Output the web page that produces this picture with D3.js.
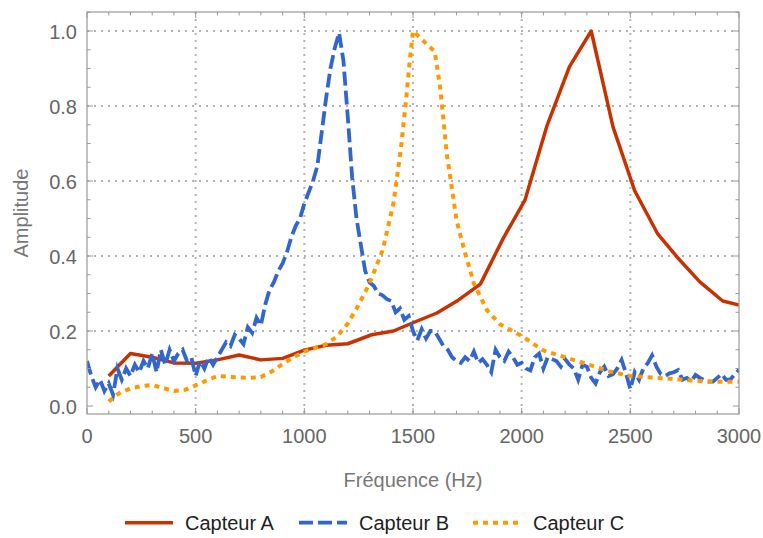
<!DOCTYPE html>
<html><head><meta charset="utf-8">
<script src="https://cdn.jsdelivr.net/npm/d3@7"></script>
<style>
html,body{margin:0;padding:0;background:#fff;}
svg{display:block;font-family:"Liberation Sans",Arial,sans-serif;}
</style></head>
<body><svg id="chart" width="763" height="538"></svg>
<script>
// ---- data ----
const seriesNames = ["Capteur A", "Capteur B", "Capteur C"];
const xTicks = [0, 500, 1000, 1500, 2000, 2500, 3000];
const yTicks = [0.0, 0.2, 0.4, 0.6, 0.8, 1.0];

const freqA = [100,200,300,400,500,600,700,800,900,1000,1100,1200,1310,1410,1500,1610,1710,1810,1915,2015,2115,2220,2320,2420,2520,2625,2720,2820,2925,3010];
const ampA  = [0.08,0.14,0.13,0.115,0.114,0.123,0.136,0.123,0.127,0.149,0.162,0.166,0.19,0.2,0.222,0.248,0.283,0.325,0.447,0.549,0.745,0.905,1.0,0.745,0.574,0.46,0.394,0.331,0.28,0.268];

const stepB = 20;
const ampB = [
 0.12,0.08,0.05,0.07,0.04,0.06,0.03,0.10,0.07,0.10,
 0.08,0.11,0.09,0.12,0.10,0.14,0.09,0.15,0.11,0.15,
 0.12,0.14,0.15,0.12,0.13,0.08,0.12,0.10,0.13,0.11,
 0.13,0.15,0.17,0.16,0.19,0.18,0.165,0.21,0.195,0.235,
 0.215,0.27,0.31,0.33,0.36,0.38,0.41,0.45,0.48,0.50,
 0.54,0.57,0.60,0.64,0.73,0.82,0.90,0.955,0.995,0.92,
 0.77,0.61,0.50,0.43,0.36,0.33,0.32,0.30,0.295,0.285,
 0.28,0.25,0.26,0.23,0.24,0.20,0.175,0.205,0.18,0.20,
 0.20,0.18,0.16,0.15,0.13,0.12,0.115,0.13,0.12,0.145,
 0.115,0.125,0.11,0.09,0.15,0.13,0.12,0.145,0.13,0.11,
 0.115,0.10,0.095,0.13,0.14,0.10,0.13,0.125,0.12,0.105,
 0.125,0.11,0.10,0.07,0.11,0.105,0.075,0.06,0.09,0.105,
 0.08,0.085,0.10,0.123,0.087,0.045,0.09,0.07,0.10,0.114,
 0.135,0.105,0.085,0.08,0.087,0.09,0.096,0.07,0.075,0.065,
 0.083,0.075,0.069,0.065,0.065,0.075,0.085,0.07,0.07,0.085,
 0.096];

const freqC = [100,150,200,250,300,350,400,450,500,550,600,650,700,750,800,850,900,950,1000,1050,1100,1150,1200,1250,1300,1360,1410,1445,1467,1486,1500,1600,1625,1640,1655,1678,1700,1740,1780,1840,1900,2000,2100,2200,2300,2400,2500,2600,2700,2800,2900,3000];
const ampC  = [0.012,0.035,0.047,0.053,0.056,0.048,0.04,0.043,0.055,0.068,0.08,0.078,0.076,0.075,0.077,0.092,0.112,0.13,0.145,0.155,0.165,0.185,0.22,0.27,0.327,0.415,0.54,0.69,0.81,0.925,1.0,0.945,0.85,0.763,0.674,0.585,0.496,0.407,0.327,0.256,0.218,0.187,0.148,0.13,0.112,0.093,0.08,0.076,0.072,0.067,0.065,0.065];

const colors = ["#c83200", "#3366cc", "#ff9900"];

// ---- layout ----
const svg = d3.select("#chart");
const L = 87, R = 739, T = 12, B = 414;
const x = d3.scaleLinear().domain([0, 3000]).range([L, R]);
const y = d3.scaleLinear().domain([-0.02133, 1.0507]).range([B, T]);

// grid
const g = svg.append("g");
g.selectAll("line.gx").data(xTicks.filter(d => d > 0 && d < 3000)).join("line")
  .attr("x1", d => x(d)).attr("x2", d => x(d)).attr("y1", T).attr("y2", B)
  .attr("stroke", "#b3b3b3").attr("stroke-width", 2).attr("stroke-dasharray", "2,5");
g.selectAll("line.gy").data(yTicks.filter(d => d > 0)).join("line")
  .attr("y1", d => y(d)).attr("y2", d => y(d)).attr("x1", L).attr("x2", R)
  .attr("stroke", "#b3b3b3").attr("stroke-width", 2).attr("stroke-dasharray", "2,5");

// clip
svg.append("clipPath").attr("id", "clip").append("rect")
  .attr("x", L).attr("y", T).attr("width", R - L).attr("height", B - T);

const line = d3.line().x(d => x(d[0])).y(d => y(d[1]));
const dataA = freqA.map((f, i) => [f, ampA[i]]);
const dataB = ampB.map((a, i) => [i * stepB, a]);
const dataC = freqC.map((f, i) => [f, ampC[i]]);

const plot = svg.append("g").attr("clip-path", "url(#clip)");
plot.append("path").attr("d", line(dataA)).attr("fill", "none")
  .attr("stroke", colors[0]).attr("stroke-width", 3.5).attr("stroke-linejoin", "round");
plot.append("path").attr("d", line(dataB)).attr("fill", "none")
  .attr("stroke", colors[1]).attr("stroke-width", 3.8).attr("stroke-dasharray", "14,5");
plot.append("path").attr("d", line(dataC)).attr("fill", "none")
  .attr("stroke", colors[2]).attr("stroke-width", 4).attr("stroke-dasharray", "5,5");

// frame
const fr = svg.append("g");
fr.append("rect").attr("x", L).attr("y", T).attr("width", R - L).attr("height", B - T)
  .attr("fill", "none").attr("stroke", "#999").attr("stroke-width", 1.2);

const xMinor = d3.range(0, 3001, 100);
const yMinor = d3.range(0, 1.0501, 0.05);
const isMajX = d => d % 500 === 0;
const isMajY = d => Math.abs(d * 5 - Math.round(d * 5)) < 1e-6;
xMinor.forEach(d => {
  const len = isMajX(d) ? 6 : 3.5;
  fr.append("line").attr("x1", x(d)).attr("x2", x(d)).attr("y1", B).attr("y2", B - len).attr("stroke", "#999");
  fr.append("line").attr("x1", x(d)).attr("x2", x(d)).attr("y1", T).attr("y2", T + len).attr("stroke", "#999");
});
yMinor.forEach(d => {
  const len = isMajY(d) ? 6 : 3.5;
  fr.append("line").attr("y1", y(d)).attr("y2", y(d)).attr("x1", L).attr("x2", L + len).attr("stroke", "#999");
  fr.append("line").attr("y1", y(d)).attr("y2", y(d)).attr("x1", R).attr("x2", R - len).attr("stroke", "#999");
});

// tick labels
svg.append("g").selectAll("text").data(xTicks).join("text")
  .attr("x", d => x(d)).attr("y", 443).attr("text-anchor", "middle")
  .attr("font-size", 20).attr("fill", "#666").text(d => d);
svg.append("g").selectAll("text").data(yTicks).join("text")
  .attr("x", 77).attr("y", d => y(d) + 7.5).attr("text-anchor", "end")
  .attr("font-size", 20).attr("fill", "#666").text(d => d3.format(".1f")(d));

// axis titles
svg.append("text").attr("x", (L + R) / 2).attr("y", 487).attr("text-anchor", "middle")
  .attr("font-size", 20).attr("fill", "#777").text("Fréquence (Hz)");
svg.append("text").attr("transform", "translate(28,213) rotate(-90)").attr("text-anchor", "middle")
  .attr("font-size", 20).attr("fill", "#777").text("Amplitude");

// legend
const legX = [125, 299, 473];
const dashes = [null, "14,5", "5,5"];
const widths = [3.5, 3.8, 4];
const leg = svg.append("g");
seriesNames.forEach((name, i) => {
  leg.append("line").attr("x1", legX[i]).attr("x2", legX[i] + 48).attr("y1", 522.7).attr("y2", 522.7)
    .attr("stroke", colors[i]).attr("stroke-width", widths[i])
    .attr("stroke-dasharray", dashes[i]);
  leg.append("text").attr("x", legX[i] + 60).attr("y", 530).attr("font-size", 20)
    .attr("fill", "#222").text(name);
});
</script></body></html>
